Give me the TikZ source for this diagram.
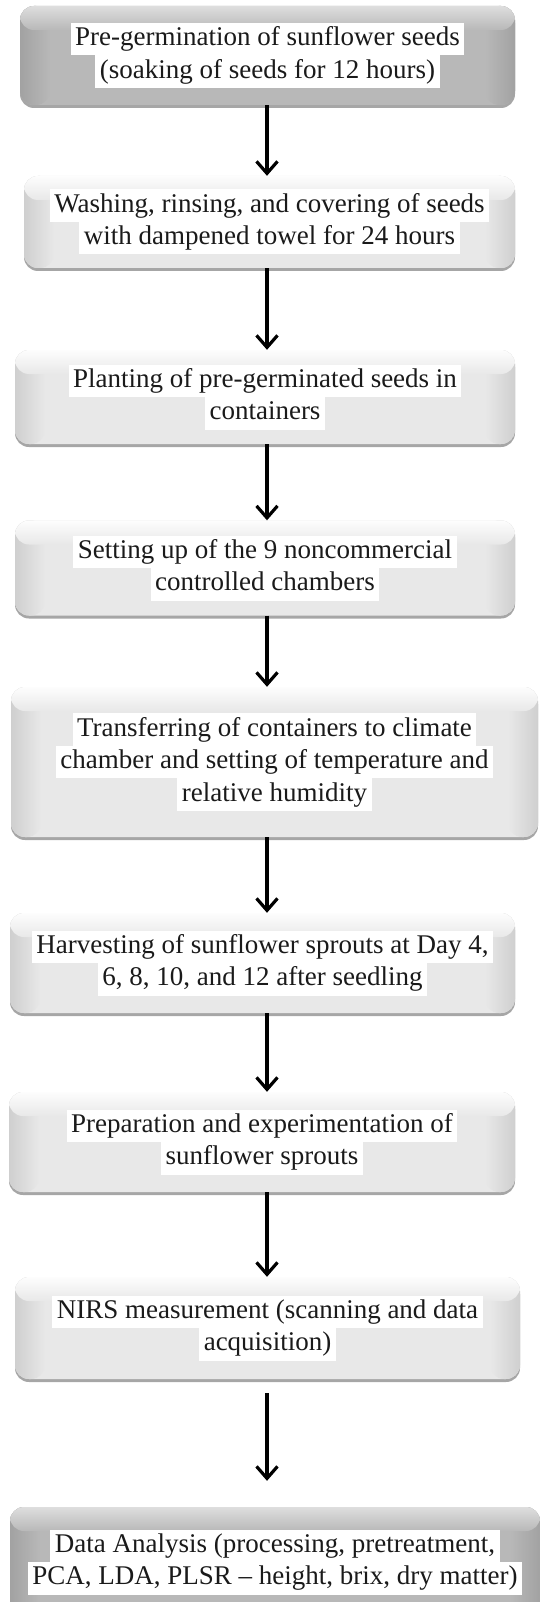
\documentclass[tikz,border=0pt]{standalone}
\usepackage{fontspec}
\setmainfont{Liberation Serif}
\usetikzlibrary{arrows.meta,shadows}
\definecolor{lbase}{HTML}{E8E8E8}
\definecolor{lside}{HTML}{CFCFCF}
\definecolor{ltop}{HTML}{FDFDFD}
\definecolor{dbase}{HTML}{B8B8B8}
\definecolor{dside}{HTML}{A2A2A2}
\definecolor{dtop}{HTML}{DEDEDE}
\definecolor{txt}{HTML}{1A1A1A}
\newcommand\hlw[1]{{\setlength{\fboxsep}{0pt}\colorbox{white}{\strut\,#1\,}}}
\newcommand\bevelfill[3]{%
  \fill[#2] (path picture bounding box.south west) rectangle (path picture bounding box.north east);
  \shade[left color=#1,right color=#2] (path picture bounding box.south west) rectangle ([xshift=30pt]path picture bounding box.north west);
  \shade[left color=#2,right color=#1] ([xshift=-30pt]path picture bounding box.south east) rectangle (path picture bounding box.north east);
  \shade[top color=#3,bottom color=#2] (path picture bounding box.north west) rectangle ([yshift=-24pt]path picture bounding box.north east);
}
\tikzset{
  box/.style={rounded corners=14pt, inner sep=0pt, align=center, text=txt,
    font=\fontsize{27}{32.5}\selectfont,
    drop shadow={shadow xshift=0pt, shadow yshift=-3pt, opacity=0.35, fill=black}},
  lightbox/.style={box, path picture={\bevelfill{lside}{lbase}{ltop}}},
  darkbox/.style={box, path picture={\bevelfill{dside}{dbase}{dtop}}},
  flow/.style={line width=3.2pt, -{Straight Barb[length=12pt,width=21pt,line width=3.2pt]}}
}
\begin{document}
\begin{tikzpicture}[x=1pt,y=-1pt]
\useasboundingbox (0,0) rectangle (540,1602);
\fill[white] (0,0) rectangle (540,1602);
\coordinate (ax) at (267,0);
\node[darkbox, minimum width=495pt, minimum height=99pt] (b1) at (267.5,55.5)
  {\hlw{Pre-germination of sunflower seeds}\\\hlw{(soaking of seeds for 12 hours)}};
\node[lightbox, minimum width=491pt, minimum height=92pt] (b2) at (269.5,222)
  {\hlw{Washing, rinsing, and covering of seeds}\\\hlw{with dampened towel for 24 hours}};
\node[lightbox, minimum width=500pt, minimum height=94pt] (b3) at (265,397)
  {\hlw{Planting of pre-germinated seeds in}\\\hlw{containers}};
\node[lightbox, minimum width=500pt, minimum height=95pt] (b4) at (265,568)
  {\hlw{Setting up of the 9 noncommercial}\\\hlw{controlled chambers}};
\node[lightbox, minimum width=527pt, minimum height=150pt] (b5) at (274.5,762)
  {\hlw{Transferring of containers to climate}\\\hlw{chamber and setting of temperature and}\\\hlw{relative humidity}};
\node[lightbox, minimum width=505pt, minimum height=100pt] (b6) at (262.5,963)
  {\hlw{Harvesting of sunflower sprouts at Day 4,}\\\hlw{6, 8, 10, and 12 after seedling}};
\node[lightbox, minimum width=506pt, minimum height=100pt] (b7) at (262,1142)
  {\hlw{Preparation and experimentation of}\\\hlw{sunflower sprouts}};
\node[lightbox, minimum width=505pt, minimum height=102pt] (b8) at (267.5,1328)
  {\hlw{NIRS measurement (scanning and data}\\\hlw{acquisition)}};
\node[darkbox, minimum width=530pt, minimum height=110pt] (b9) at (275,1562)
  {\hlw{Data Analysis (processing, pretreatment,}\\\hlw{PCA, LDA, PLSR – height, brix, dry matter)}};
\foreach \a/\b in {b1/b2,b2/b3,b3/b4,b4/b5,b5/b6,b6/b7,b7/b8}
  \draw[flow] (\a.south -| ax) -- (\b.north -| ax);
\draw[flow, shorten <=14pt, shorten >=26pt] (b8.south -| ax) -- (b9.north -| ax);
\end{tikzpicture}
\end{document}
